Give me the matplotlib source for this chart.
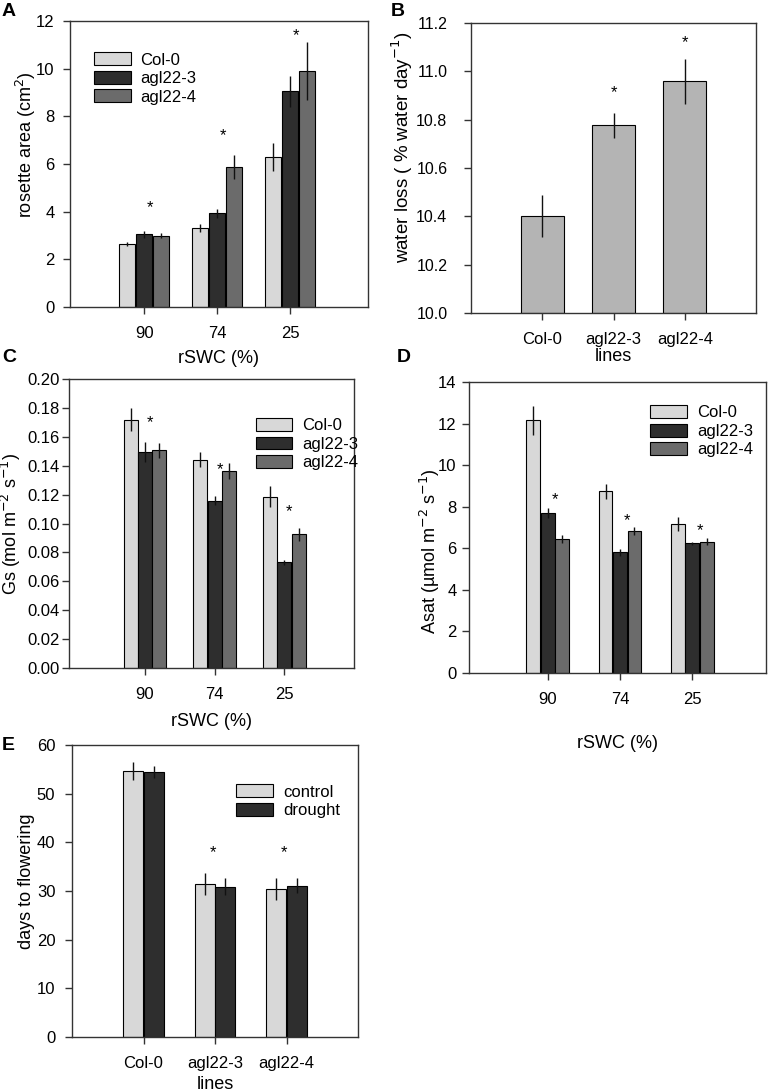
import numpy as np
import matplotlib
matplotlib.use("Agg")
import matplotlib.pyplot as plt

plt.rcParams['font.family'] = ['Liberation Sans', 'DejaVu Sans']
plt.rcParams['font.size'] = 12

CL_LIGHT = "#d8d8d8"
CL_DARK = "#2e2e2e"
CL_MID = "#6b6b6b"
CL_B = "#b4b4b4"

rswc = ["90", "74", "25"]
lines = ["Col-0", "agl22-3", "agl22-4"]

# A: rosette area
area_col0 = [2.65, 3.32, 6.30]
area_col0_err = [0.07, 0.17, 0.60]
area_agl3 = [3.05, 3.93, 9.05]
area_agl3_err = [0.15, 0.20, 0.65]
area_agl4 = [2.99, 5.89, 9.90]
area_agl4_err = [0.10, 0.50, 1.22]
area_star = [4.15, 7.17, 11.40]

# B: water loss
wl = [10.40, 10.777, 10.958]
wl_err = [0.087, 0.052, 0.092]
wl_star = [None, 10.91, 11.12]

# C: Gs
gs_col0 = [0.1719, 0.1442, 0.1186]
gs_col0_err = [0.0080, 0.0050, 0.0075]
gs_agl3 = [0.1495, 0.1158, 0.0731]
gs_agl3_err = [0.0068, 0.0030, 0.0015]
gs_agl4 = [0.1506, 0.1363, 0.0927]
gs_agl4_err = [0.0050, 0.0055, 0.0045]
gs_star = [0.1695, 0.1370, 0.1080]

# D: Asat
asat_col0 = [12.16, 8.74, 7.15]
asat_col0_err = [0.69, 0.36, 0.34]
asat_agl3 = [7.71, 5.80, 6.24]
asat_agl3_err = [0.23, 0.18, 0.06]
asat_agl4 = [6.46, 6.82, 6.32]
asat_agl4_err = [0.20, 0.20, 0.18]
asat_star = [8.34, 7.34, 6.86]

# E: days to flowering
dtf_control = [54.7, 31.5, 30.4]
dtf_control_err = [1.9, 2.3, 2.3]
dtf_drought = [54.4, 30.9, 31.1]
dtf_drought_err = [1.2, 1.7, 1.5]
dtf_star = [None, 37.9, 37.9]

W, H = 768, 1091
fig = plt.figure(figsize=(W / 100, H / 100), dpi=100)


def make_ax(l, r, t, b, ypad, ysize=12):
    ax = fig.add_axes([l / W, 1 - b / H, (r - l) / W, (b - t) / H])
    for s in ax.spines.values():
        s.set_linewidth(1.0)
        s.set_color("#333333")
    ax.tick_params(direction="out", length=5, width=1, color="#333333",
                   labelsize=12)
    ax.tick_params(axis="x", pad=9)
    ax.tick_params(axis="y", pad=ypad, labelsize=ysize)
    return ax


def group_bars(ax, series, errs, colors, names, width, step):
    x = np.arange(3)
    n = len(series)
    for i in range(n):
        off = (i - (n - 1) / 2) * step
        ax.bar(x + off, series[i], width, color=colors[i], edgecolor="black",
               linewidth=0.8, label=names[i], zorder=2)
        ax.errorbar(x + off, series[i], yerr=errs[i], fmt="none",
                    ecolor="#111111", elinewidth=1.0, capsize=0, zorder=3)


def stars(ax, ys, dx):
    for i, y in enumerate(ys):
        if y is not None:
            ax.text(i + dx, y, "*", ha="center", va="center", fontsize=12)


def labels(ax, xl, yl, xly, ylx, yly, ysize=13):
    ax.set_xlabel(xl, fontsize=13, va="top")
    ax.xaxis.set_label_coords(0.5, xly)
    ax.set_ylabel(yl, fontsize=ysize)
    ax.yaxis.set_label_coords(ylx, yly)


def legend(ax, x, y):
    ax.legend(loc="upper left", bbox_to_anchor=(x, y), frameon=False,
              handlelength=2.2, handleheight=0.8, labelspacing=0.2,
              handletextpad=0.6, fontsize=12, borderaxespad=0, borderpad=0)


def panel_letter(x, y, s):
    fig.text(x / W, 1 - y / H, s, fontsize=14, fontweight="bold",
             ha="left", va="center")


# ---- A
axA = make_ax(70, 368, 21, 307, 6)
group_bars(axA, [area_col0, area_agl3, area_agl4],
           [area_col0_err, area_agl3_err, area_agl4_err],
           [CL_LIGHT, CL_DARK, CL_MID], lines, 0.22, 0.235)
stars(axA, area_star, 0.08)
axA.set_xlim(-1.02, 3.07)
axA.set_ylim(0, 12)
axA.set_yticks(np.arange(0, 13, 2))
axA.set_xticks(range(3))
axA.set_xticklabels(rswc)
labels(axA, "rSWC (%)", "rosette area (cm$^2$)", -0.150, -0.106, 0.566)
legend(axA, 0.08, 0.89)

# ---- B
axB = make_ax(471, 756, 23, 313, 12, ysize=11.5)
xb = np.arange(3)
axB.bar(xb, np.array(wl) - 10.0, 0.6, bottom=10.0, color=CL_B,
        edgecolor="black", linewidth=0.8, zorder=2)
axB.errorbar(xb, wl, yerr=wl_err, fmt="none", ecolor="#111111",
             elinewidth=1.0, capsize=0, zorder=3)
stars(axB, wl_star, 0.0)
axB.set_xlim(-1, 3)
axB.set_ylim(10.0, 11.2)
axB.set_yticks(np.arange(10.0, 11.21, 0.2))
axB.set_yticklabels(["%.1f" % v for v in np.arange(10.0, 11.21, 0.2)])
axB.set_xticks(range(3))
axB.set_xticklabels(lines)
labels(axB, "lines", "water loss ( % water day$^{-1}$)", -0.121, -0.195, 0.572,
       ysize=13.5)

# ---- C
axC = make_ax(69, 354, 379, 668, 1.5)
group_bars(axC, [gs_col0, gs_agl3, gs_agl4],
           [gs_col0_err, gs_agl3_err, gs_agl4_err],
           [CL_LIGHT, CL_DARK, CL_MID], lines, 0.2, 0.205)
stars(axC, gs_star, 0.07)
axC.set_xlim(-1.09, 3.0)
axC.set_ylim(0, 0.20)
axC.set_yticks(np.arange(0, 0.201, 0.02))
axC.set_yticklabels(["%.2f" % v for v in np.arange(0, 0.201, 0.02)])
axC.set_xticks(range(3))
axC.set_xticklabels(rswc)
labels(axC, "rSWC (%)", "Gs (mol m$^{-2}$ s$^{-1}$)", -0.156, -0.160, 0.5)
legend(axC, 0.655, 0.865)

# ---- D
axD = make_ax(469, 766, 382, 673, 4)
group_bars(axD, [asat_col0, asat_agl3, asat_agl4],
           [asat_col0_err, asat_agl3_err, asat_agl4_err],
           [CL_LIGHT, CL_DARK, CL_MID], lines, 0.19, 0.2)
stars(axD, asat_star, 0.1)
axD.set_xlim(-1.09, 3.02)
axD.set_ylim(0, 14)
axD.set_yticks(np.arange(0, 15, 2))
axD.set_xticks(range(3))
axD.set_xticklabels(rswc)
labels(axD, "rSWC (%)", "Asat (µmol m$^{-2}$ s$^{-1}$)", -0.213, -0.091, 0.419)
legend(axD, 0.61, 0.92)

# ---- E
axE = make_ax(72, 358, 745, 1037, 7)
xe = np.arange(3)
axE.bar(xe - 0.145, dtf_control, 0.28, color=CL_LIGHT, edgecolor="black",
        linewidth=0.8, label="control", zorder=2)
axE.errorbar(xe - 0.145, dtf_control, yerr=dtf_control_err, fmt="none",
             ecolor="#111111", elinewidth=1.0, capsize=0, zorder=3)
axE.bar(xe + 0.145, dtf_drought, 0.28, color=CL_DARK, edgecolor="black",
        linewidth=0.8, label="drought", zorder=2)
axE.errorbar(xe + 0.145, dtf_drought, yerr=dtf_drought_err, fmt="none",
             ecolor="#111111", elinewidth=1.0, capsize=0, zorder=3)
stars(axE, dtf_star, -0.03)
axE.set_xlim(-1, 3)
axE.set_ylim(0, 60)
axE.set_yticks(np.arange(0, 61, 10))
axE.set_xticks(range(3))
axE.set_xticklabels(lines)
labels(axE, "lines", "days to flowering", -0.134, -0.129, 0.534)
legend(axE, 0.574, 0.865)

panel_letter(2, 12, "A")
panel_letter(391, 12, "B")
panel_letter(2, 357, "C")
panel_letter(397, 357, "D")
panel_letter(2, 745, "E")

fig.savefig("out.png", dpi=100)
